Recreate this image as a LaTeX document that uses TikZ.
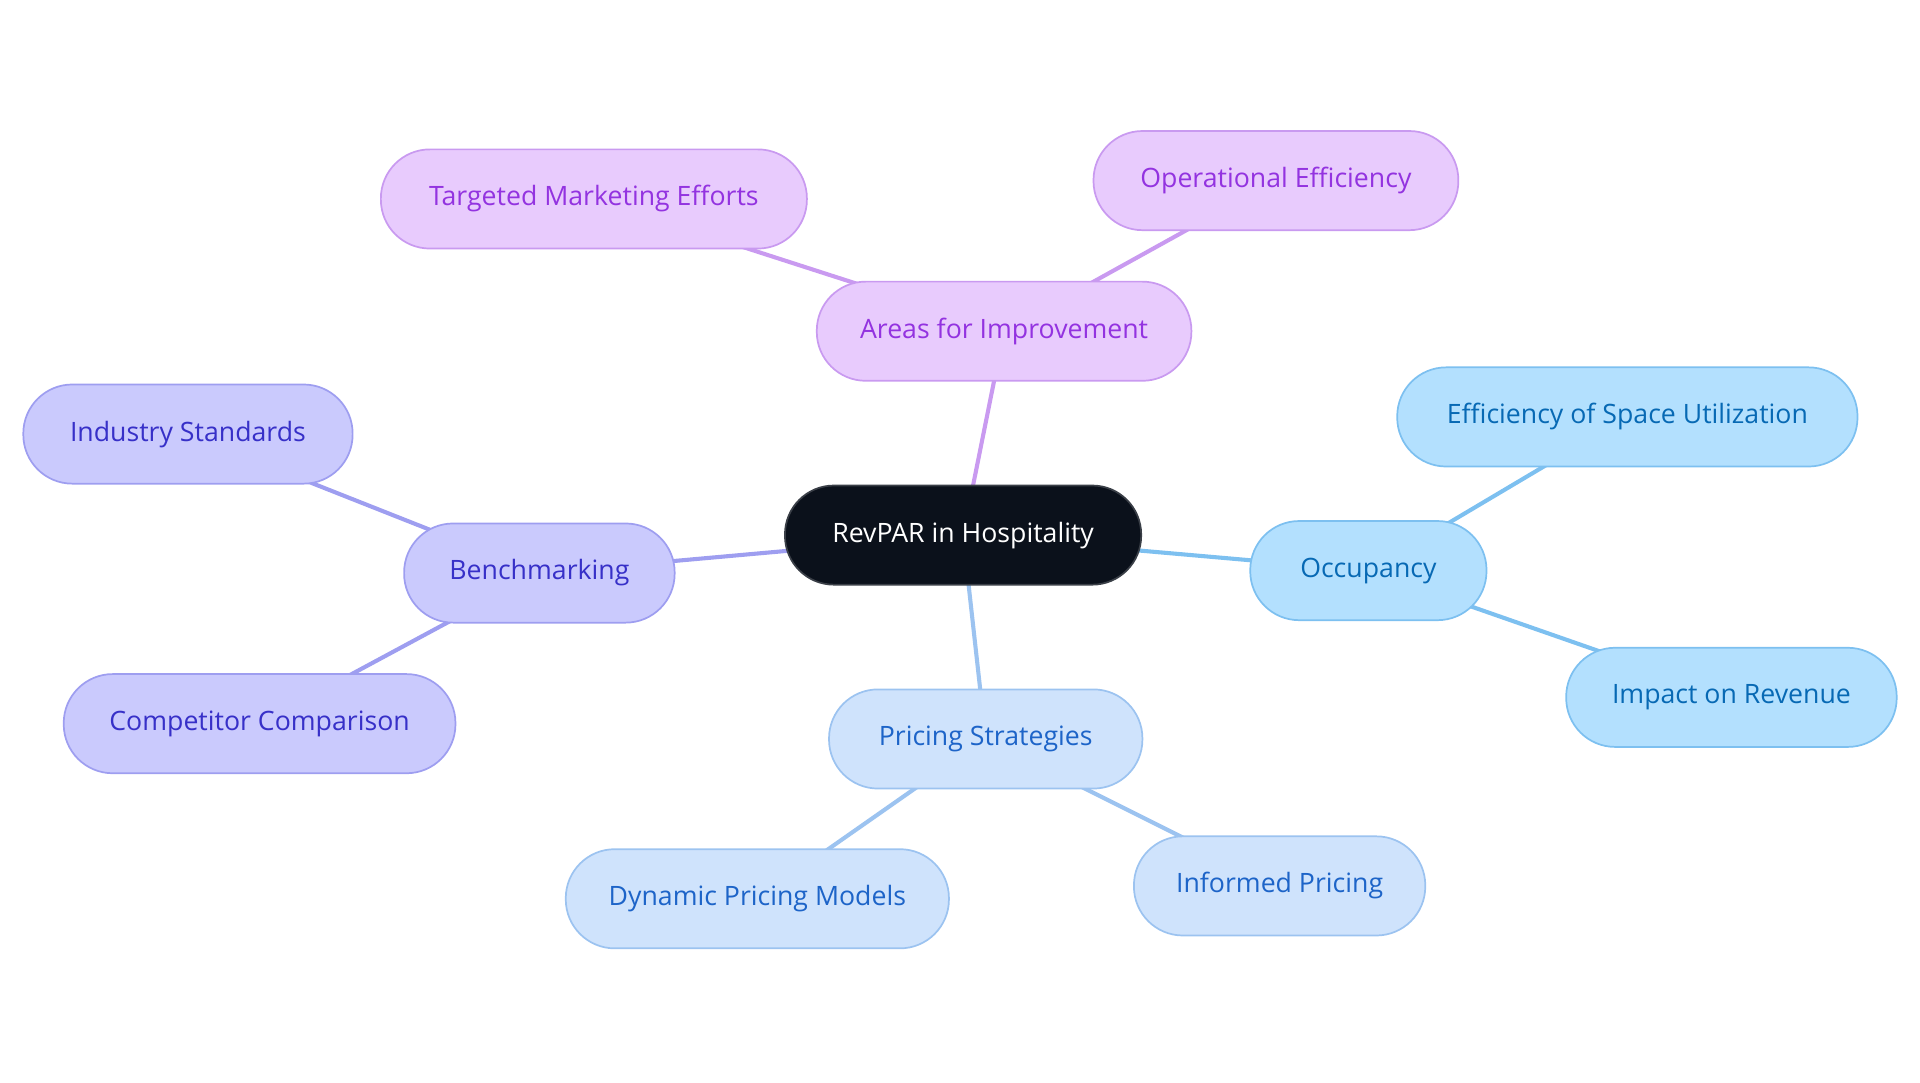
\documentclass[tikz,border=0pt]{standalone}
\usepackage{fontspec}
\setmainfont{Open Sans}
\usetikzlibrary{backgrounds}
\definecolor{rootfill}{HTML}{0B111B}
\definecolor{rootline}{HTML}{3A3F47}
\definecolor{purfill}{HTML}{E8CBFD}
\definecolor{purline}{HTML}{C99AF0}
\definecolor{purtext}{HTML}{9333E0}
\definecolor{lavfill}{HTML}{CACAFD}
\definecolor{lavline}{HTML}{9E9EF0}
\definecolor{lavtext}{HTML}{3730C8}
\definecolor{skyfill}{HTML}{B3E0FE}
\definecolor{skyline}{HTML}{7DC0F0}
\definecolor{skytext}{HTML}{0769B4}
\definecolor{prifill}{HTML}{CFE3FC}
\definecolor{priline}{HTML}{9CC3F0}
\definecolor{pritext}{HTML}{1D64C8}
\begin{document}
\begin{tikzpicture}[x=0.02cm,y=-0.02cm,
  pill/.style={rectangle,rounded corners=0.8cm,minimum height=1.62cm,
    line width=0.8pt,font=\fontsize{12.4}{15}\selectfont},
  root/.style={pill,fill=rootfill,draw=rootline,text=white},
  purnode/.style={pill,fill=purfill,draw=purline,text=purtext},
  lavnode/.style={pill,fill=lavfill,draw=lavline,text=lavtext},
  skynode/.style={pill,fill=skyfill,draw=skyline,text=skytext},
  prinode/.style={pill,fill=prifill,draw=priline,text=pritext},
  link/.style={line width=1.9pt}]
\useasboundingbox (0,0) rectangle (1568,884);
% main node
\node[root,minimum width=5.82cm] (rev) at (786.5,437) {RevPAR in Hospitality};
% areas for improvement
\node[purnode,minimum width=6.12cm] (areas) at (820,270.5) {Areas for Improvement};
\node[purnode,minimum width=6.96cm] (market) at (485,162.5) {Targeted Marketing Efforts};
\node[purnode,minimum width=5.96cm] (operat) at (1042,147.5) {Operational Efficiency};
% benchmarking
\node[lavnode,minimum width=4.42cm] (bench) at (440.5,468) {Benchmarking};
\node[lavnode,minimum width=5.38cm] (indust) at (153.5,354.5) {Industry Standards};
\node[lavnode,minimum width=6.40cm] (compet) at (212,591) {Competitor Comparison};
% occupancy
\node[skynode,minimum width=3.86cm] (occup) at (1117.5,466) {Occupancy};
\node[skynode,minimum width=7.52cm] (space) at (1329,340.5) {Efficiency of Space Utilization};
\node[skynode,minimum width=5.40cm] (impact) at (1414,569.5) {Impact on Revenue};
% pricing strategies
\node[prinode,minimum width=5.12cm] (pricing) at (805,603.5) {Pricing Strategies};
\node[prinode,minimum width=6.26cm] (dynam) at (618.5,734) {Dynamic Pricing Models};
\node[prinode,minimum width=4.76cm] (inform) at (1045,723.5) {Informed Pricing};
% links
\begin{scope}[on background layer]
\draw[link,purline] (rev.center) -- (areas.center);
\draw[link,purline] (areas.center) -- (market.center);
\draw[link,purline] (areas.center) -- (operat.center);
\draw[link,lavline] (rev.center) -- (bench.center);
\draw[link,lavline] (bench.center) -- (indust.center);
\draw[link,lavline] (bench.center) -- (compet.center);
\draw[link,skyline] (rev.center) -- (occup.center);
\draw[link,skyline] (occup.center) -- (space.center);
\draw[link,skyline] (occup.center) -- (impact.center);
\draw[link,priline] (rev.center) -- (pricing.center);
\draw[link,priline] (pricing.center) -- (dynam.center);
\draw[link,priline] (pricing.center) -- (inform.center);
\end{scope}
\end{tikzpicture}
\end{document}
